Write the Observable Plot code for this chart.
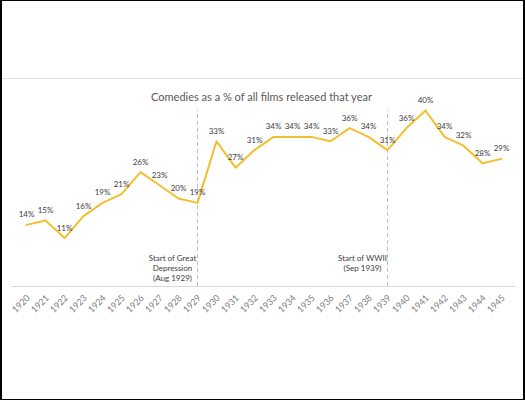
<!DOCTYPE html>
<html><head><meta charset="utf-8">
<script src="https://cdn.jsdelivr.net/npm/d3@7"></script>
<script src="https://cdn.jsdelivr.net/npm/@observablehq/plot@0.6"></script>
<style>
body{margin:0;background:#fff}
#wrap{position:relative;width:525px;height:400px;overflow:hidden;background:#fff}
#wrap svg{position:absolute;left:0;top:0}
#frame{position:absolute;left:0;top:0;width:525px;height:400px;box-sizing:border-box;border-style:solid;border-color:#000;border-width:1px 2px 1px 2px;pointer-events:none}
#sep{position:absolute;left:2px;right:2px;top:78px;height:1px;background:#e3e3e3}
</style></head><body>
<div id="wrap"><div id="sep"></div><div id="frame"></div></div>
<script>
const years = [1920,1921,1922,1923,1924,1925,1926,1927,1928,1929,1930,1931,1932,1933,1934,1935,1936,1937,1938,1939,1940,1941,1942,1943,1944,1945];
const share = [14,15,11,16,19,21,26,23,20,19,33,27,31,34,34,34,33,36,34,31,36,40,34,32,28,29];
const events = [1929, 1939];
const eventLabels = ["Start of Great\nDepression\n(Aug 1929)", "Start of WWII\n(Sep 1939)"];
const title = "Comedies as a % of all films released that year";

const data = years.map((y, i) => ({year: y, pct: share[i]}));
const eventData = events.map((e, i) => ({year: e, label: eventLabels[i]}));

const chart = Plot.plot({
  width: 525, height: 400,
  marginLeft: 11, marginRight: 10, marginTop: 110, marginBottom: 114,
  style: {fontFamily: "Lato, 'Open Sans', sans-serif", background: "transparent"},
  x: {type: "point", domain: years, padding: 0.5, axis: null},
  y: {domain: [0, 40], axis: null},
  marks: [
    Plot.ruleY([0], {stroke: "#d9d9d9", strokeWidth: 1}),
    Plot.ruleX(eventData, {x: "year", y1: 0, y2: 40, stroke: "#bfbfbf", strokeDasharray: "4,3"}),
    Plot.lineY(data, {x: "year", y: "pct", stroke: "#f2bf2f", strokeWidth: 2}),
    Plot.text(data, {x: "year", y: "pct", text: d => d.pct + "%", dy: -10, fontSize: 8, fill: "#404040"}),
    Plot.text(eventData, {x: "year", y: 0, text: "label", lineAnchor: "top", lineHeight: 1.2, dx: -25, dy: -32, fontSize: 8, fill: "#404040"}),
    Plot.text([title], {frameAnchor: "top", dx: -2, dy: -17, fontSize: 11, fill: "#595959"}),
    Plot.text(years, {x: d => d, y: 0, text: d => String(d), rotate: -45, textAnchor: "end", lineAnchor: "middle", dx: 2, dy: 10, fontSize: 9, fill: "#808080"})
  ]
});
document.getElementById("wrap").prepend(chart);
</script>
</body></html>
